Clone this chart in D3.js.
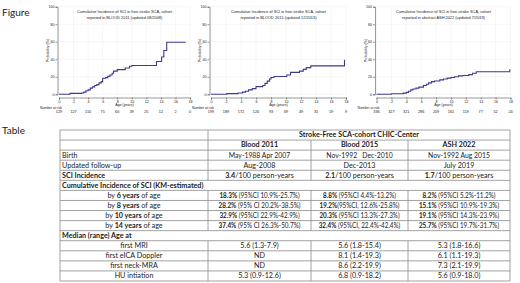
<!DOCTYPE html>
<html>
<head>
<meta charset="utf-8">
<script src="https://cdn.jsdelivr.net/npm/d3@7"></script>
<style>
  body { margin: 0; background: #fff; }
  text { font-family: Lato, "Open Sans", sans-serif; fill: #1a1a1a; }
  .chart text { font-family: "Liberation Sans", Arial, sans-serif; }
</style>
</head>
<body>
<svg id="fig" width="520" height="283"></svg>
<script>
// ---- figure data (age in years, cumulative incidence in %) ----
const ageTicks = [0, 2, 4, 6, 8, 10, 12, 14, 16, 18];
const probTicks = [0, 20, 40, 60, 80, 100];

const curve2011 = [[0,0],[1.5,1],[3.1,1.5],[3.4,2.5],[3.7,4],[4.0,5],[4.3,7],[4.6,8.5],[4.9,10],
  [5.2,11],[5.5,13],[5.8,14.5],[6.0,18.3],[6.4,19],[6.7,20.5],[7.0,22],[7.3,24],[7.5,26.5],
  [8.0,28.2],[9.1,30],[9.7,32],[10.0,32.9],[13.4,37.4],[14.1,42.5],[14.4,50],[14.8,59.5],[17.4,59.5]];
const curve2015 = [[0,0],[2.1,0.8],[3.6,1.5],[4.2,2.5],[4.6,3.5],[5.0,5],[5.5,6.5],[6.0,8.8],
  [6.9,10],[7.2,12.5],[7.5,15],[7.8,17.5],[8.0,19.2],[8.4,20.3],[10.1,22],[10.6,25],[11.8,26.5],
  [12.3,28.5],[12.7,30.5],[13.3,32.4],[17.8,32.4],[17.8,39.5]];
const curve2022 = [[0,0],[2.0,0.7],[3.6,1.3],[4.0,2.2],[4.3,3.5],[4.6,5],[4.9,6],[5.3,7],[5.7,8.2],
  [6.3,10],[6.7,11.5],[7.0,13],[7.4,14.5],[7.8,15.1],[8.5,16.5],[9.0,17.5],[9.5,18.5],[10.0,19.1],
  [10.5,20],[11.0,21],[11.6,21.5],[12.4,22.5],[12.9,24],[13.4,25.7],[17.9,25.7],[17.9,28.5]];

const atRisk2011 = [129, 127, 110, 75, 60, 39, 25, 12, 2, 0];
const atRisk2015 = [199, 189, 172, 126, 93, 69, 49, 31, 19, 9];
const atRisk2022 = [336, 327, 321, 286, 209, 161, 119, 77, 52, 24];

const chartTitles = [
  ["Cumulative Incidence of SCI in free-stroke SCA, cohort", "reported in BLOOD 2011 (updated 08/2008)"],
  ["Cumulative Incidence of SCI in free-stroke SCA, cohort", "reported in BLOOD 2015 (updated 12/2013)"],
  ["Cumulative Incidence of SCI in free-stroke SCA, cohort", "reported in abstract ASH 2022 (updated 7/2019)"]
];

// ---- table data ----
const tableTitle = "Stroke-Free SCA-cohort CHIC-Center";
const studies = ["Blood 2011", "Blood 2015", "ASH 2022"];
const birthRange = ["May-1988 Apr 2007", "Nov-1992   Dec-2010", "Nov-1992 Aug 2015"];
const followUp = ["Aug-2008", "Dec-2013", "July 2019"];
const sciIncidence = ["3.4", "2.1", "1.7"];
const kmAges = [6, 8, 10, 14];
const kmPct = [
  ["18.3%", "8.8%", "8.2%"],
  ["28.2%", "19.2%", "15.1%"],
  ["32.9%", "20.3%", "19.1%"],
  ["37.4%", "32.4%", "25.7%"]
];
const kmCI = [
  [" (95%CI 10.9%-25.7%)", " (95%CI 4.4%-13.2%)", " (95%CI 5.2%-11.2%)"],
  [" (95% CI 20.2%-38.5%)", "(95%CI, 12.6%-25.8%)", " (95%CI 10.9%-19.3%)"],
  [" (95%CI 22.9%-42.9%)", " (95%CI 13.3%-27.3%)", " (95%CI 14.3%-23.9%)"],
  [" (95% CI 26.3%-50.7%)", " (95%CI, 22.4%-42.4%)", " (95%CI 19.7%-31.7%)"]
];
const medianLabels = ["first MRI", "first eICA Doppler", "first neck-MRA", "HU intiation"];
const medianAges = [
  ["5.6 (1.3-7.9)", "5.6 (1.8-15.4)", "5.3 (1.8-16.6)"],
  ["ND", "8.1 (1.4-19.3)", "6.1 (1.1-19.3)"],
  ["ND", "8.6 (2.2-19.9)", "7.3 (2.1-19.9)"],
  ["5.3 (0.9-12.6)", "6.8 (0.9-18.2)", "5.6 (0.9-18.0)"]
];

const svg = d3.select("#fig");

// ---- section labels ----
svg.append("text").attr("x", 2).attr("y", 15.5).style("font-size", "10px").text("Figure");
svg.append("text").attr("x", 2).attr("y", 134).style("font-size", "10px").text("Table");

// ---- the three KM charts ----
const charts = [
  { x0: 59, x1: 190, curve: curve2011, risk: atRisk2011, title: chartTitles[0] },
  { x0: 211, x1: 346, curve: curve2015, risk: atRisk2015, title: chartTitles[1] },
  { x0: 376.5, x1: 510.5, curve: curve2022, risk: atRisk2022, title: chartTitles[2] }
];
const yTop = 6.7, yZero = 94.3, xAxisY = 97.5;

charts.forEach(c => {
  const x = d3.scaleLinear().domain([0, 18]).range([c.x0, c.x1]);
  const y = d3.scaleLinear().domain([0, 100]).range([yZero, yTop]);
  const g = svg.append("g").attr("class", "chart");

  // faint grid
  g.selectAll(".vg").data(ageTicks).join("line")
    .attr("x1", d => x(d)).attr("x2", d => x(d))
    .attr("y1", yTop).attr("y2", yZero)
    .attr("stroke", "#ededed").attr("stroke-width", 0.5);
  g.selectAll(".hg").data(probTicks).join("line")
    .attr("x1", c.x0).attr("x2", c.x1)
    .attr("y1", d => y(d)).attr("y2", d => y(d))
    .attr("stroke", "#ededed").attr("stroke-width", 0.5);

  // title
  c.title.forEach((t, i) => {
    g.append("text").attr("x", (c.x0 + c.x1) / 2).attr("y", 12.5 + i * 6)
      .attr("text-anchor", "middle").style("font-size", "3.9px").text(t);
  });

  // step curve
  const line = d3.line().x(d => x(d[0])).y(d => y(d[1])).curve(d3.curveStepAfter);
  g.append("path").datum(c.curve).attr("d", line)
    .attr("fill", "none").attr("stroke", "#3d3b8e").attr("stroke-width", 1.1);

  // axes
  const xa = g.append("g").attr("transform", `translate(0,${xAxisY})`)
    .call(d3.axisBottom(x).tickValues(ageTicks).tickSize(2).tickPadding(1));
  const ya = g.append("g").attr("transform", `translate(${c.x0 - 1.5},0)`)
    .call(d3.axisLeft(y).tickValues(probTicks).tickSize(2).tickPadding(1));
  [xa, ya].forEach(a => {
    a.selectAll("path, line").attr("stroke", "#333").attr("stroke-width", 0.5);
    a.selectAll("text").style("font-size", "3.6px").attr("fill", "#222");
  });

  g.append("text").attr("x", (c.x0 + c.x1) / 2).attr("y", 106)
    .attr("text-anchor", "middle").style("font-size", "3.6px").text("Age (years)");
  g.append("text").attr("transform", `translate(${c.x0 - 10},${(yTop + yZero) / 2}) rotate(-90)`)
    .attr("text-anchor", "middle").style("font-size", "3.6px").text("Probability (%)");

  // number at risk
  g.append("text").attr("x", c.x0 - 19).attr("y", 109)
    .style("font-size", "3.4px").attr("fill", "#1f3c88").text("Number at risk");
  g.selectAll(".risk").data(c.risk).join("text")
    .attr("x", (d, i) => x(ageTicks[i])).attr("y", 112.8)
    .attr("text-anchor", "middle").style("font-size", "3.8px").text(d => d);
});

// ---- table ----
const colX = [60, 208, 311, 408, 510];
const tTop = 130, rowH = 151 / 15;
const tbl = svg.append("g").style("font-size", "7.2px");

// sx < 1 squeezes the cell text a little so it fits the column like the original
function addText(xPos, row, segs, anchor, sx = 1) {
  const t = tbl.append("text")
    .attr("transform", `translate(${xPos},${tTop + row * rowH + 7.4}) scale(${sx},1)`)
    .attr("text-anchor", anchor).style("white-space", "pre");
  segs.forEach(s => t.append("tspan").attr("font-weight", s[1] ? 700 : 400).text(s[0]));
}
const mid = j => (colX[j + 1] + colX[j + 2]) / 2;
const labMid = (colX[0] + colX[1]) / 2;
const sq = 0.88;

// rows
addText((colX[1] + colX[4]) / 2, 0, [[tableTitle, true]], "middle");
studies.forEach((s, j) => addText(mid(j), 1, [[s, true]], "middle"));
addText(62, 2, [["Birth", false]], "start");
birthRange.forEach((s, j) => addText(mid(j), 2, [[s, false]], "middle", 0.95));
addText(62, 3, [["Updated follow-up", false]], "start");
followUp.forEach((s, j) => addText(mid(j), 3, [[s, false]], "middle"));
addText(62, 4, [["SCI Incidence", true]], "start");
sciIncidence.forEach((s, j) => addText(mid(j), 4, [[s, true], ["/100 person-years", false]], "middle"));
addText(62, 5, [["Cumulative Incidence of SCI (KM-estimated)", true]], "start");
kmAges.forEach((a, i) => {
  addText(labMid, 6 + i, [["by ", false], [a + " years", true], [" of age", false]], "middle");
  kmPct[i].forEach((p, j) => addText(mid(j), 6 + i, [[p, true], [kmCI[i][j], false]], "middle", sq));
});
addText(62, 10, [["Median (range) Age at", true]], "start");
medianLabels.forEach((l, i) => {
  addText(labMid, 11 + i, [[l, false]], "middle");
  medianAges[i].forEach((v, j) => addText(mid(j), 11 + i, [[v, false]], "middle"));
});

// grid lines
const lineCol = "#8a8a8a";
d3.range(16).forEach(r => {
  tbl.append("line").attr("x1", colX[0]).attr("x2", colX[4])
    .attr("y1", tTop + r * rowH).attr("y2", tTop + r * rowH)
    .attr("stroke", lineCol).attr("stroke-width", 0.8);
});
[colX[0], colX[4]].forEach(xv => {
  tbl.append("line").attr("x1", xv).attr("x2", xv).attr("y1", tTop).attr("y2", tTop + 15 * rowH)
    .attr("stroke", lineCol).attr("stroke-width", 0.8);
});
d3.range(15).forEach(r => {
  if (r === 5 || r === 10) return;
  const cols = r === 0 ? [colX[1]] : [colX[1], colX[2], colX[3]];
  cols.forEach(xv => {
    tbl.append("line").attr("x1", xv).attr("x2", xv)
      .attr("y1", tTop + r * rowH).attr("y2", tTop + (r + 1) * rowH)
      .attr("stroke", lineCol).attr("stroke-width", 0.8);
  });
});
</script>
</body>
</html>
